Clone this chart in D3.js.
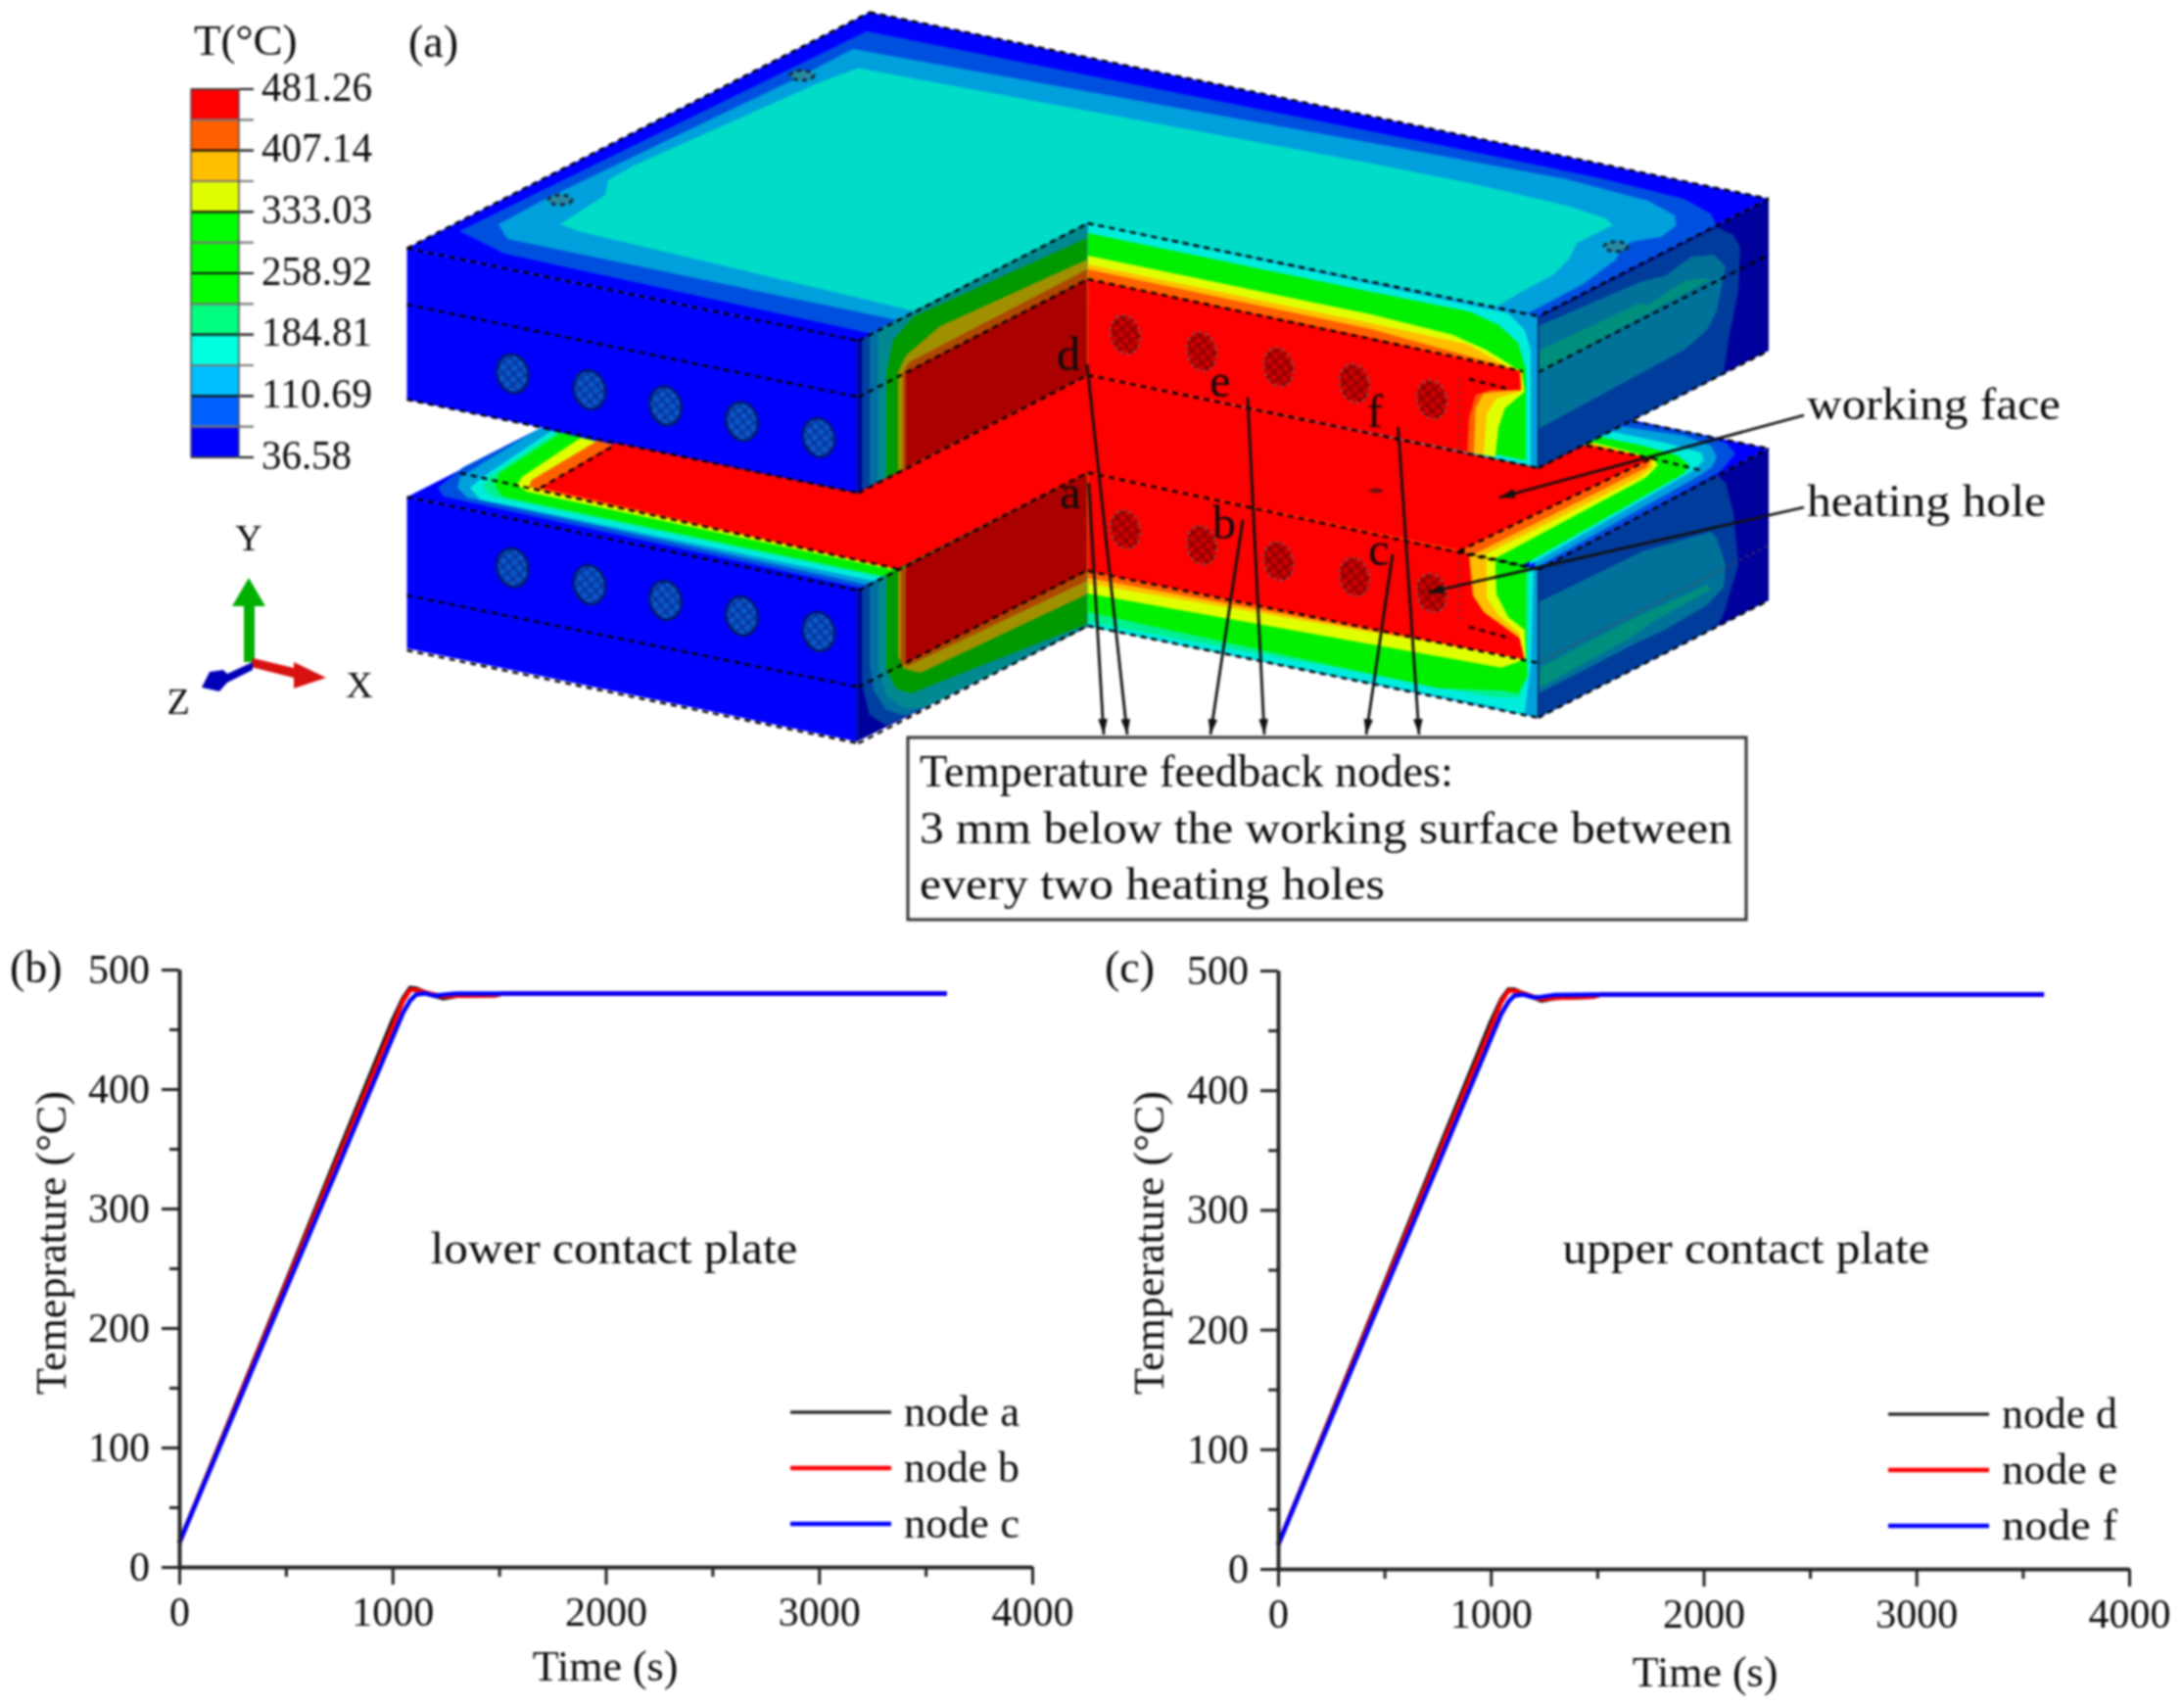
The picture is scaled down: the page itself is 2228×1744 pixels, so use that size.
<!DOCTYPE html>
<html>
<head>
<meta charset="utf-8">
<script src="https://cdnjs.cloudflare.com/ajax/libs/d3/7.8.5/d3.min.js"></script>
<style>
html, body { margin: 0; padding: 0; background: #fff; }
svg { display: block; filter: blur(0.85px); }
text { font-family: "Liberation Serif", serif; fill: #0c0c0c; }
</style>
</head>
<body>
<script>
var width = 2228, height = 1744;

// chart values
var axisX = [0, 1000, 2000, 3000, 4000],
    axisXMinor = [500, 1500, 2500, 3500],
    axisY = [0, 100, 200, 300, 400, 500],
    axisYMinor = [50, 150, 250, 350, 450];

var times = [0, 250, 500, 750, 1000, 1050, 1083, 1110, 1150, 1200, 1238, 1300, 1480, 1520, 3600];
var nodeA = [20, 129, 238, 348, 457, 476, 484.5, 484, 481, 478, 476, 478, 478.5, 480, 480];
var nodeB = [20, 128, 236, 344, 452, 474, 483, 483, 481, 479, 477.5, 478, 478.5, 480, 480];
var nodeC = [20, 126, 232, 337, 443, 464, 474, 479, 480, 478, 479, 480, 480, 480, 480];
var nodeD = [20, 129, 238, 348, 457, 476, 484, 484, 481, 478, 475, 477, 478, 480, 480];
var nodeE = [20, 128, 236, 344, 452, 474, 483, 483, 481, 478, 476, 477, 478, 480, 480];
var nodeF = [20, 126, 232, 337, 443, 464, 474, 479, 480, 477.5, 478, 479.5, 480, 480, 480];

var seriesColors = ["#111", "#ff0000", "#0000ff"],
    seriesWidths = [4.5, 4.5, 4.5];

// colour bar of the temperature field
var barValues = [481.26, 444.20, 407.14, 370.09, 333.03, 295.97, 258.92, 221.86, 184.81, 147.75, 110.69, 73.64, 36.58];
var barColors = ["#ff0000", "#ff6000", "#ffbf00", "#dfff00", "#00ff00", "#00ff00", "#00ff00", "#00ff7f", "#00ffdf", "#00bfff", "#0060ff", "#0000ff"];
var barLabels = ["481.26", "407.14", "333.03", "258.92", "184.81", "110.69", "36.58"];

var c = { blue: "#0000ff", mid: "#0050e0", light: "#00a0dc", turq: "#00dcc8", cyan: "#00ecdc", sea: "#00f090",
    green: "#00f000", yellow: "#e0ff00", amber: "#ffbf00", orange: "#ff6000", red: "#ff0000",
    navy: "#00009c", dblue: "#003c9c", teal: "#00729a", tgreen: "#008f7c",
    sideNavy: "#00009c", sideBlue: "#0040a0", sideTealA: "#0070a0", sideTealB: "#008a90",
    sideGreen: "#009900", sideOlive: "#a09000", sideOrange: "#ac4800", sideRed: "#aa0000" };

// plate outlines in picture coordinates (the drawing is an illustration, there is no data behind it)
var lowerTop = [
    ["blue", [[415.5,507.5],[888,266],[1806,458],[1570.7,581.7],[1110.7,482.5],[876.5,603]]],
    ["mid", [[473,477],[552,437],[900,520],[917,580],[882,601],[453,507],[447,498]]],
    ["light", [[543,442],[552,437],[900,520],[917,580],[890,598],[477,508],[467,498],[470,487]]],
    ["cyan", [[563,440],[900,520],[917,580],[896,594],[490,510],[480,498],[493,487]]],
    ["sea", [[568,441],[900,520],[917,580],[903,590],[502,507],[493,497],[502,485]]],
    ["green", [[573,442],[900,520],[917,580],[905,589],[513,507],[505,495],[510,483]]],
    ["yellow", [[593,447],[900,520],[917,580],[912,582],[538,502],[528,495],[533,487]]],
    ["orange", [[610,450],[900,520],[917,580],[914,581],[550,500],[540,497],[543,490]]],
    ["mid", [[1663,430],[1733,443],[1762,452],[1772,463],[1758,480],[1747,487],[1570.7,581.7],[1570.7,478]]],
    ["light", [[1653,435],[1720,445],[1747,455],[1753,467],[1747,478],[1733,487],[1567,580],[1570.7,478]]],
    ["cyan", [[1643,440],[1700,452],[1737,462],[1740,470],[1730,480],[1562,577],[1570.7,478]]],
    ["green", [[1633,446],[1677,455],[1713,465],[1725,475],[1720,483],[1555,577],[1490,562.7],[1570.7,478]]],
    ["yellow", [[1627,452],[1660,460],[1688,468],[1693,475],[1680,488],[1527,570],[1490,562.7]]],
    ["amber", [[1623,453],[1687,468],[1687,477],[1673,488],[1515,567],[1490,562.7]]],
    ["orange", [[1622,453],[1686,468],[1682,477],[1507,565],[1490,562.7]]],
    ["red", [[552,498],[627,453],[900,400],[1110,380],[1620,455],[1686.7,468],[1490,562.7],[917,581]]]
];

var lowerSide = [
    ["sideNavy", [[875.5,602],[1110.7,482.5],[1110.7,640],[875.5,757]]],
    ["sideBlue", [[880,600],[1110,483],[1110,640],[905,741],[888,730],[880,700]]],
    ["sideTealA", [[888,595.5],[1110,483],[1110,640],[925,731],[905,725],[892,705],[888,680]]],
    ["sideTealB", [[897,591],[1110,483],[1110,640],[943,723],[923,723],[905,710],[897,683]]],
    ["sideGreen", [[905,587],[1110,483],[1110,637],[930,708],[915,703],[905,683]]],
    ["sideOlive", [[917,583],[1110,483],[1110,606.7],[940,687],[923,683],[917,670]]],
    ["sideOrange", [[920,582],[1110,483],[1110,593],[927,680],[920,677]]],
    ["sideRed", [[925,578],[1110,483],[1110,583.3],[925,676.7]]]
];

var lowerInner = [
    ["light", [[1110.7,482.5],[1570.7,581.7],[1570.7,733],[1110.7,639.5]]],
    ["cyan", [[1110.7,482.5],[1566,580],[1563,680],[1556.7,730],[1526.7,722],[1110.7,639]]],
    ["sea", [[1110.7,482.5],[1562,579],[1560,680],[1552,712],[1526.7,712],[1110.7,635]]],
    ["green", [[1110.7,482.5],[1558,578],[1558,673],[1560,690],[1550,708],[1533,705],[1470,703],[1400,688],[1110.7,625]]],
    ["yellow", [[1110.7,482.5],[1526.7,570],[1528,606.7],[1540,630],[1556.7,643],[1558,673],[1533,681.7],[1110.7,606]]],
    ["amber", [[1110.7,482.5],[1518,568],[1518,610],[1530,628],[1551.7,646.7],[1553,671.7],[1110.7,596]]],
    ["orange", [[1110.7,482.5],[1500,564],[1505,610],[1517,628],[1548,650],[1552,672],[1110.7,590]]],
    ["red", [[1110.7,482.5],[1490,562.7],[1500,566.7],[1503,606.7],[1515,625],[1546.7,648],[1551.7,651.7],[1556.7,673.3],[1110.7,583]]]
];

var lowerRight = [
    ["navy", [[1570.7,581.7],[1806,458],[1806,613],[1570.7,733]]],
    ["dblue", [[1570.7,583],[1753,485],[1762,493],[1770,523],[1775,577],[1760,627],[1753,640],[1570.7,733]]],
    ["teal", [[1570.7,615],[1677,563],[1747,543],[1753,550],[1762,577],[1760,600],[1743,618],[1700,643],[1670,657],[1570.7,708]]],
    ["tgreen", [[1572,682],[1667,632],[1700,617],[1743,597],[1747,602],[1720,617],[1687,635],[1667,650],[1572,702]]]
];

var upperTop = [
    ["blue", [[415.5,253.5],[888,12.5],[1806,203],[1570.7,323],[1111,228],[876.5,348]]],
    ["mid", [[1480,150],[1633,181.7],[1720,203],[1746.7,218.3],[1752.7,230],[1570.7,323],[1111,228],[893,341.5],[515,259],[469,236],[885,32]]],
    ["light", [[1423,150],[1600,183],[1683,205],[1710,220],[1711.7,230],[1696.7,241.7],[1666.7,246.7],[1656.7,253],[1650,265],[1616.7,290],[1560,320],[1111,228],[917,327],[518,244],[509,229],[555,204],[813,80],[871,50]]],
    ["turq", [[1400,166.7],[1500,186.7],[1600,210],[1640,223.3],[1646.7,230],[1630,238.3],[1610,248.3],[1603,263.3],[1586.7,280],[1550,300],[1526.7,314],[1111,228],[935,318],[590,236],[572,229],[618,199],[621,184],[647,169],[836,84.6],[876,69.6]]]
];

var upperSide = [
    ["sideNavy", [[875.5,348],[1110.7,228],[1110.7,383],[875.5,503]]],
    ["sideBlue", [[880,345.5],[1110,228],[1110,383],[880,500.5]]],
    ["sideTealA", [[888,341],[1110,228],[1110,383],[888,496]]],
    ["sideTealB", [[897,336],[1110,228],[1110,383],[897,492]]],
    ["sideGreen", [[905,488],[905,380],[912,347],[933,323],[1110,243],[1110,383]]],
    ["sideOlive", [[917,481],[917,380],[925,363],[960,333],[1110,265],[1110,383]]],
    ["sideOrange", [[922,479],[922,380],[928,370],[1110,275],[1110,383]]],
    ["sideRed", [[925,477],[925,380],[1110,285],[1110,383]]]
];

var upperInner = [
    ["light", [[1110.7,228],[1570.7,323],[1570.7,478],[1110.7,383]]],
    ["cyan", [[1110.7,228],[1540,320],[1556.7,336.7],[1563,356.7],[1563,475],[1110.7,383]]],
    ["green", [[1110.7,238],[1400,298],[1500,318],[1530,331.7],[1550,350],[1558,376.7],[1558,470],[1110.7,383]]],
    ["yellow", [[1110.7,261],[1400,321],[1483,341.7],[1516.7,356.7],[1543,373],[1554,380],[1556.7,400],[1536.7,416.7],[1530,436.7],[1526.7,466.7],[1110.7,383]]],
    ["amber", [[1110.7,270],[1400,330],[1500,352],[1540,375],[1554,380],[1554,399],[1528,406.7],[1518,423],[1515,465],[1110.7,383]]],
    ["orange", [[1110.7,275],[1400,336],[1551.7,378],[1553,398],[1515,401.7],[1506.7,416.7],[1505,463],[1110.7,383]]],
    ["red", [[1110.7,285],[1400,345],[1551.7,379.3],[1552.7,398.3],[1523,398.3],[1506.7,403],[1500,426.7],[1498.3,461.7],[1110.7,383]]]
];

var upperRight = [
    ["navy", [[1570.7,323],[1806,203],[1806,358],[1570.7,478]]],
    ["dblue", [[1570.7,325],[1753,232],[1770,240],[1777,253],[1775,297],[1765,347],[1760,382],[1570.7,478]]],
    ["teal", [[1570.7,333],[1677,287],[1700,282],[1727,262],[1750,260],[1762,272],[1753,317],[1743,337],[1720,357],[1570.7,438]]],
    ["tgreen", [[1572,358],[1673,310],[1683,311],[1720,287],[1740,284],[1747,285],[1572,380]]]
];

var frontFace = [[415.5,0],[876.5,94.5],[876.5,250],[415.5,154.5]];
var frontTops = [253.5, 507.5];

var holesFront = [[523.4,381.6],[602,398],[679.5,414.4],[757.6,430.3],[836,446.8],
    [523.4,579.6],[602,597],[679.5,613],[757.6,629],[836,645]];
var holesInner = [[1149,341.7],[1227,359],[1305.5,375],[1383,391.4],[1462,408],
    [1149,540.7],[1227,556.6],[1305.5,573],[1383,589],[1462,605.4]];
var topMarks = [[572,204],[819,77],[1650,251.7]];
var smallMark = [[1405,501]];

var dashedEdges = [
    [[415.5,253.5],[876.5,348]], [[415.5,311],[876.5,405.5]], [[876.5,348],[1110.7,228]], [[876.5,405.5],[1110.7,285]],
    [[415.5,253.5],[888,12.5]], [[888,12.5],[1806,203]], [[1806,203],[1570.7,323]],
    [[1110.7,228],[1570.7,323]], [[1110.7,285],[1555,379]], [[1110.7,383],[1570.7,478]], [[1500,387],[1543,398]],
    [[415.5,408],[876.5,503.5]], [[876.5,503.5],[1110.7,383]], [[1570.7,478],[1806,358]], [[1570.7,380],[1806,260]],
    [[415.5,507.5],[876.5,603]], [[415.5,608],[876.5,701.5]], [[876.5,603],[1110.7,482.5]], [[876.5,701.5],[1110.7,582]],
    [[1110.7,482.5],[1570.7,581.7]], [[1110.7,583],[1570.7,677]], [[1110.7,639],[1570.7,733]], [[1500,640],[1543,652]],
    [[1570.7,581.7],[1806,458]], [[1570.7,733],[1806,613]],
    [[415.5,664],[876.5,759]], [[876.5,759],[1110.7,639]], [[1667,430],[1806,458]],
    [[470,483],[917,581]], [[552,498],[627,455]], [[1490,562.7],[1686.7,468]], [[1620,455],[1686.7,468]], [[1686.7,468],[1740,481]], [[1490,562.7],[1570,581]]
];

var faintEdges = [[[1570.7,676.7],[1806,556.7]], [[1490,386],[1490,462]], [[1490,566],[1490,636]]];

var solidEdges = [
    [[875.5,348],[875.5,503]], [[875.5,602],[875.5,757]], [[1570.7,323],[1570.7,478]], [[1570.7,581.7],[1570.7,733]]
];

var leaders = [
    [[1111.7,493],[1127,750]], [[1110,372],[1151,750]], [[1269,531],[1236,750]],
    [[1274,406],[1291,750]], [[1422,566],[1395,750]], [[1427.6,436],[1449,750]],
    [[1842,424],[1531,508]], [[1842,518],[1458,605]]
];

var nodeLetters = [["d",1091,378],["e",1246,405],["f",1404,436],["a",1093,519],["b",1250,550],["c",1408,577]];

var svg = d3.select("body").append("svg")
    .attr("width", width)
    .attr("height", height);

// picture coordinates of the reference go through these
var sx = d3.scaleLinear().domain([0, 2228]).range([0, width]),
    sy = d3.scaleLinear().domain([0, 1744]).range([0, height]);

var outline = d3.line().x(function(d) { return sx(d[0]); }).y(function(d) { return sy(d[1]); });

var defs = svg.append("defs");

var scene = svg.append("g");

function fillLayers(layers) {
    scene.append("g").selectAll("path")
        .data(layers)
        .enter().append("path")
        .attr("d", function(d) { return outline(d[1]) + "Z"; })
        .attr("fill", function(d) { return c[d[0]]; });
}

// front faces are the same shape on both plates
function frontOutline(top) {
    return frontFace.map(function(p) { return [p[0], p[1] + top]; });
}

// painter's order, lower plate first
fillLayers(lowerTop);
fillLayers(lowerSide);
fillLayers(lowerInner);
fillLayers(lowerRight);
fillLayers([["blue", frontOutline(frontTops[1])]]);
fillLayers(upperTop);
fillLayers(upperSide);
fillLayers(upperInner);
fillLayers(upperRight);
fillLayers([["blue", frontOutline(frontTops[0])]]);

function drawEdges(edges, colour, w, dash) {
    scene.append("g").selectAll("line")
        .data(edges)
        .enter().append("line")
        .attr("x1", function(d) { return sx(d[0][0]); })
        .attr("y1", function(d) { return sy(d[0][1]); })
        .attr("x2", function(d) { return sx(d[1][0]); })
        .attr("y2", function(d) { return sy(d[1][1]); })
        .attr("stroke", colour)
        .attr("stroke-width", w)
        .attr("stroke-dasharray", dash);
}

drawEdges(dashedEdges, "#000", 2.4, "6 5");
drawEdges(faintEdges, "#604040", 1.4, "3 4");
drawEdges(solidEdges, "#002060", 1.5, null);

// hatching of the heating holes
function hatch(id, base, ink) {
    var p = defs.append("pattern")
        .attr("id", id)
        .attr("width", 8).attr("height", 8)
        .attr("patternUnits", "userSpaceOnUse")
        .attr("patternTransform", "rotate(-25)");
    p.append("rect").attr("width", 8).attr("height", 8).attr("fill", base);
    p.append("path").attr("d", "M0,1H8M1,0V8").attr("stroke", ink).attr("stroke-width", 1.6);
}
hatch("holeBlue", "#0a58c8", "#082c90");
hatch("holeRed", "#d00000", "#780000");

scene.append("g").selectAll("ellipse")
    .data(holesFront)
    .enter().append("ellipse")
    .attr("transform", function(d) { return "translate(" + sx(d[0]) + "," + sy(d[1]) + ") rotate(-14)"; })
    .attr("rx", 16).attr("ry", 20)
    .attr("fill", "url(#holeBlue)")
    .attr("stroke", "#001a70")
    .attr("stroke-width", 2.6);

scene.append("g").selectAll("ellipse")
    .data(holesInner)
    .enter().append("ellipse")
    .attr("transform", function(d) { return "translate(" + sx(d[0]) + "," + sy(d[1]) + ") rotate(-14)"; })
    .attr("rx", 15).attr("ry", 20)
    .attr("fill", "url(#holeRed)")
    .attr("stroke", "#805050")
    .attr("stroke-width", 2.2)
    .attr("stroke-dasharray", "3 4");

scene.append("g").selectAll("ellipse")
    .data(topMarks)
    .enter().append("ellipse")
    .attr("cx", function(d) { return sx(d[0]); })
    .attr("cy", function(d) { return sy(d[1]); })
    .attr("rx", 12).attr("ry", 5)
    .attr("fill", "#2a8aa0")
    .attr("stroke", "#103040")
    .attr("stroke-width", 3)
    .attr("stroke-dasharray", "5 4");

scene.append("g").selectAll("ellipse")
    .data(smallMark)
    .enter().append("ellipse")
    .attr("cx", function(d) { return sx(d[0]); })
    .attr("cy", function(d) { return sy(d[1]); })
    .attr("rx", 7).attr("ry", 2.5)
    .attr("fill", "#701010");

defs.append("marker")
    .attr("id", "head")
    .attr("viewBox", "0 0 10 6")
    .attr("refX", 10).attr("refY", 3)
    .attr("markerWidth", 16).attr("markerHeight", 10)
    .attr("markerUnits", "userSpaceOnUse")
    .attr("orient", "auto")
    .append("path").attr("d", "M0,0L10,3L0,6Z").attr("fill", "#111");

scene.append("g").selectAll("line.lead")
    .data(leaders)
    .enter().append("line")
    .attr("class", "lead")
    .attr("x1", function(d) { return sx(d[0][0]); })
    .attr("y1", function(d) { return sy(d[0][1]); })
    .attr("x2", function(d) { return sx(d[1][0]); })
    .attr("y2", function(d) { return sy(d[1][1]); })
    .attr("stroke", "#111")
    .attr("stroke-width", 2.8)
    .attr("marker-end", "url(#head)");

// small text helper, the text width is forced where the blurred original runs wide
function label(parent, str, x, y, size, wide, anchor) {
    var t = parent.append("text")
        .attr("x", x).attr("y", y)
        .attr("font-size", size)
        .attr("text-anchor", anchor || "start")
        .text(str);
    if (wide) t.attr("textLength", wide).attr("lengthAdjust", "spacingAndGlyphs");
    return t;
}

scene.selectAll("text.node")
    .data(nodeLetters)
    .enter().append("text")
    .attr("class", "node")
    .attr("x", function(d) { return sx(d[1]); })
    .attr("y", function(d) { return sy(d[2]); })
    .attr("font-size", 48)
    .attr("text-anchor", "middle")
    .text(function(d) { return d[0]; });

label(svg, "working face", 1845, 428, 46, 259);
label(svg, "heating hole", 1845, 527, 46, 244);
label(svg, "(a)", 417, 58, 46);
label(svg, "(b)", 10, 1003, 46);
label(svg, "(c)", 1128, 1003, 46);

// feedback nodes note
svg.append("rect")
    .attr("x", 927).attr("y", 753)
    .attr("width", 856).attr("height", 186)
    .attr("fill", "#fff")
    .attr("stroke", "#333")
    .attr("stroke-width", 3);
label(svg, "Temperature feedback nodes:", 939, 803, 46, 545);
label(svg, "3 mm below the working surface between", 939, 861, 46, 830);
label(svg, "every two heating holes", 939, 918, 46, 475);

// temperature colour bar
var tempScale = d3.scaleLinear().domain([36.58, 481.26]).range([467, 91]);

var bar = svg.append("g");
bar.selectAll("rect")
    .data(barColors)
    .enter().append("rect")
    .attr("x", 195).attr("width", 49)
    .attr("y", function(d, i) { return tempScale(barValues[i]); })
    .attr("height", function(d, i) { return tempScale(barValues[i + 1]) - tempScale(barValues[i]); })
    .attr("fill", function(d) { return d; });

bar.selectAll("line")
    .data(barValues)
    .enter().append("line")
    .attr("x1", 195).attr("x2", 259)
    .attr("y1", function(d) { return tempScale(d); })
    .attr("y2", function(d) { return tempScale(d); })
    .attr("stroke", function(d, i) { return i % 2 ? "#777" : "#111"; })
    .attr("stroke-width", 2.2);

bar.append("rect")
    .attr("x", 195).attr("y", tempScale(481.26))
    .attr("width", 49).attr("height", tempScale(36.58) - tempScale(481.26))
    .attr("fill", "none").attr("stroke", "#555").attr("stroke-width", 1.5);

bar.selectAll("text")
    .data(barLabels)
    .enter().append("text")
    .attr("x", 267)
    .attr("y", function(d) { return tempScale(+d); })
    .attr("dy", ".28em")
    .attr("font-size", 42)
    .attr("textLength", function(d) { return d.length > 5 ? 113 : 92; })
    .attr("lengthAdjust", "spacingAndGlyphs")
    .text(function(d) { return d; });

label(svg, "T(°C)", 198, 56, 45);

// axis triad
var triad = svg.append("g");
triad.append("path").attr("d", outline([[249,676],[249,619],[237,619],[254,590],[271,619],[260,619],[260,676]]) + "Z").attr("fill", "#00b000");
triad.append("path").attr("d", outline([[258,672],[300,682],[300,676],[333,692],[300,703],[300,692],[256,681]]) + "Z").attr("fill", "#d81010");
triad.append("path").attr("d", outline([[258,676],[232,688],[228,684],[214,686],[206,702],[224,706],[232,697],[258,684]]) + "Z").attr("fill", "#0000b8");
label(svg, "Y", 254, 562, 38, null, "middle");
label(svg, "X", 367, 712, 38, null, "middle");
label(svg, "Z", 182, 729, 38, null, "middle");

// the two line charts, same drawing apart from the numbers
function drawPlot(opt) {
    var x = d3.scaleLinear().domain([0, 4000]).range([opt.left, opt.right]),
        y = d3.scaleLinear().domain([0, 500]).range([opt.bottom, opt.top]);

    var g = svg.append("g");

    var line = d3.line()
        .x(function(d) { return x(d[0]); })
        .y(function(d) { return y(d[1]); });

    g.selectAll("path.curve")
        .data(opt.series)
        .enter().append("path")
        .attr("class", "curve")
        .attr("fill", "none")
        .attr("stroke", function(d, i) { return seriesColors[i]; })
        .attr("stroke-width", function(d, i) { return seriesWidths[i]; })
        .attr("d", function(d) { return line(d3.zip(times, d)); });

    g.append("g").attr("transform", "translate(0," + opt.bottom + ")")
        .call(d3.axisBottom(x).tickValues(axisX).tickSize(18).tickPadding(12).tickSizeOuter(0).tickFormat(d3.format("d")));
    g.append("g").attr("transform", "translate(0," + opt.bottom + ")")
        .call(d3.axisBottom(x).tickValues(axisXMinor).tickSize(10).tickSizeOuter(0).tickFormat(""));

    g.append("g").attr("transform", "translate(" + opt.left + ",0)")
        .call(d3.axisLeft(y).tickValues(axisY).tickSize(18).tickPadding(12).tickSizeOuter(0).tickFormat(d3.format("d")));
    g.append("g").attr("transform", "translate(" + opt.left + ",0)")
        .call(d3.axisLeft(y).tickValues(axisYMinor).tickSize(10).tickSizeOuter(0).tickFormat(""));

    g.selectAll(".domain").attr("stroke", "#222").attr("stroke-width", 3.5);
    g.selectAll(".tick line").attr("stroke", "#222").attr("stroke-width", 3);
    g.selectAll(".tick text").attr("font-size", 42).attr("font-family", "Liberation Serif").attr("fill", "#0c0c0c");

    label(g, opt.note, opt.noteX, 1290, 46, 375, "middle");
    label(g, "Time (s)", opt.timeX, opt.timeY, 44, null, "middle");

    g.append("text")
        .attr("transform", "translate(" + opt.tempX + ",1269) rotate(-90)")
        .attr("text-anchor", "middle")
        .attr("font-size", 44)
        .attr("textLength", 310)
        .attr("lengthAdjust", "spacingAndGlyphs")
        .text(opt.tempLabel);

    var key = g.selectAll("g.key")
        .data(opt.names)
        .enter().append("g")
        .attr("class", "key")
        .attr("transform", function(d, i) { return "translate(0," + (opt.keyY + i * 57) + ")"; });

    key.append("line")
        .attr("x1", opt.keyX).attr("x2", opt.keyX + 103)
        .attr("stroke", function(d, i) { return seriesColors[i]; })
        .attr("stroke-width", function(d, i) { return i ? seriesWidths[i] : 3; });

    key.append("text")
        .attr("x", opt.keyX + 116)
        .attr("y", 14)
        .attr("font-size", 44)
        .attr("textLength", 118)
        .attr("lengthAdjust", "spacingAndGlyphs")
        .text(function(d) { return d; });
}

drawPlot({
    left: 183, right: 1054, top: 990, bottom: 1600,
    series: [nodeA, nodeB, nodeC],
    names: ["node a", "node b", "node c"],
    note: "lower contact plate", noteX: 627,
    tempLabel: "Temeprature (°C)", tempX: 67,
    timeX: 618, timeY: 1716,
    keyX: 807, keyY: 1442
});

drawPlot({
    left: 1305, right: 2174, top: 991, bottom: 1602,
    series: [nodeD, nodeE, nodeF],
    names: ["node d", "node e", "node f"],
    note: "upper contact plate", noteX: 1783,
    tempLabel: "Temperature (°C)", tempX: 1188,
    timeX: 1741, timeY: 1722,
    keyX: 1928, keyY: 1444
});
</script>
</body>
</html>
